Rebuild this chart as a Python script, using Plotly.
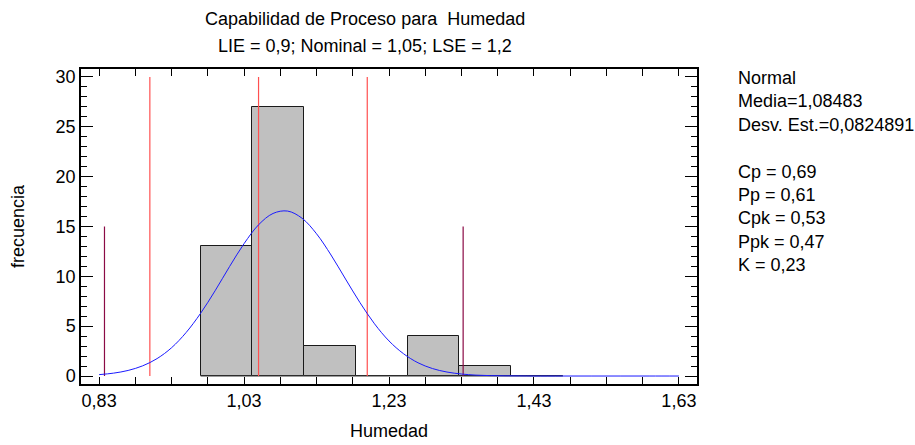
import plotly.graph_objects as go

# ---------------- data ----------------
bin_edges = [0.970, 1.0414, 1.1129, 1.1843, 1.2557, 1.3271, 1.3986, 1.470]
counts = [13, 27, 3, 0, 4, 1, 0]

curve_x = [0.83, 0.85, 0.87, 0.89, 0.91, 0.93, 0.95, 0.97, 0.99, 1.01, 1.03, 1.05,
           1.07, 1.09, 1.11, 1.13, 1.15, 1.17, 1.19, 1.21, 1.23, 1.25, 1.27, 1.29,
           1.31, 1.33, 1.35, 1.37, 1.39, 1.41, 1.43, 1.47, 1.51, 1.55, 1.59, 1.63]
curve_y = [0.14, 0.29, 0.56, 1.02, 1.75, 2.84, 4.36, 6.29, 8.55, 10.98, 13.28, 15.17,
           16.31, 16.55, 15.83, 14.27, 12.14, 9.73, 7.36, 5.24, 3.52, 2.24, 1.33, 0.75,
           0.40, 0.20, 0.09, 0.04, 0.02, 0.01, 0.0, 0.0, 0.0, 0.0, 0.0, 0.0]

spec_names = ["LIE", "Nominal", "LSE"]
spec_values = [0.9, 1.05, 1.2]
spec_height = 30
sigma_lines = [0.8374, 1.3323]
sigma_height = 15

x_tick_vals = [0.83, 1.03, 1.23, 1.43, 1.63]
x_tick_labels = ["0,83", "1,03", "1,23", "1,43", "1,63"]
x_minor_step = 0.05

title_lines = ["Capabilidad de Proceso para  Humedad",
               "LIE = 0,9; Nominal = 1,05; LSE = 1,2"]
stats_lines = ["Normal", "Media=1,08483", "Desv. Est.=0,0824891", "",
               "Cp = 0,69", "Pp = 0,61", "Cpk = 0,53", "Ppk = 0,47", "K = 0,23"]

# ---------------- figure ----------------
W, H = 915, 445
L, R, T, B = 81, 218, 69, 61
FONT = "Liberation Sans, Arial, sans-serif"

def px_x(p):
    return (p - L) / (W - L - R)

def px_y(p):
    return (H - B - p) / (H - T - B)

fig = go.Figure()

centers = [(bin_edges[i] + bin_edges[i + 1]) / 2 for i in range(len(counts))]
widths = [bin_edges[i + 1] - bin_edges[i] for i in range(len(counts))]

# baseline of histogram (visible for empty bins)
fig.add_trace(go.Scatter(x=[bin_edges[0], bin_edges[-1]], y=[0, 0], mode="lines",
                         line=dict(color="#404040", width=1), hoverinfo="skip"))

fig.add_trace(go.Bar(x=centers, y=counts, width=widths,
                     marker=dict(color="#c0c0c0", line=dict(color="#1a1a1a", width=1)),
                     hoverinfo="x+y"))

for v in spec_values:
    fig.add_trace(go.Scatter(x=[v, v], y=[0, spec_height], mode="lines",
                             line=dict(color="#ff5050", width=1.2), hoverinfo="skip"))

for v in sigma_lines:
    fig.add_trace(go.Scatter(x=[v, v], y=[0, sigma_height], mode="lines",
                             line=dict(color="#8b0a45", width=1.2), hoverinfo="skip"))

fig.add_trace(go.Scatter(x=curve_x, y=curve_y, mode="lines", line_shape="spline",
                         line=dict(color="#1a1aff", width=1), hoverinfo="skip"))

# ticks: all x ticks every 0.05, labelled every 0.2
n_minor = int(round((x_tick_vals[-1] - x_tick_vals[0]) / x_minor_step))
all_x = [round(x_tick_vals[0] + i * x_minor_step, 4) for i in range(n_minor + 1)]
lab = dict(zip([round(v, 4) for v in x_tick_vals], x_tick_labels))
all_x_text = [lab.get(v, "") for v in all_x]

fig.update_layout(
    width=W, height=H,
    margin=dict(l=L, r=R, t=T, b=B),
    paper_bgcolor="white", plot_bgcolor="white",
    showlegend=False,
    bargap=0,
    font=dict(family=FONT, size=18, color="black"),
    xaxis=dict(range=[0.805, 1.655], tickvals=all_x, ticktext=all_x_text,
               ticks="inside", ticklen=7, tickwidth=1, tickcolor="black",
               showline=True, linecolor="black", linewidth=1.5, mirror="allticks",
               showgrid=False, zeroline=False, automargin=False,
               title=dict(text="Humedad", standoff=14, font=dict(size=18)),
               tickfont=dict(size=18)),
    yaxis=dict(range=[-0.8, 30.8], tickvals=[0, 5, 10, 15, 20, 25, 30],
               ticks="inside", ticklen=12, tickwidth=1, tickcolor="black",
               minor=dict(dtick=1, ticks="inside", ticklen=6, tickcolor="black", showgrid=False),
               showline=True, linecolor="black", linewidth=1.5, mirror="allticks",
               showgrid=False, zeroline=False, automargin=False,
               title=dict(text="frecuencia", standoff=26, font=dict(size=18)),
               tickfont=dict(size=18)),
)

# title lines
for i, t in enumerate(title_lines):
    fig.add_annotation(text=t, xref="paper", yref="paper", x=px_x(365), y=px_y([19, 46][i]),
                       xanchor="center", yanchor="middle", showarrow=False,
                       font=dict(family=FONT, size=18))

# stats block
fig.add_annotation(text="<br>".join(s if s else " " for s in stats_lines),
                   xref="paper", yref="paper", x=px_x(736), y=px_y(66),
                   xanchor="left", yanchor="top", align="left", showarrow=False,
                   font=dict(family=FONT, size=18))

fig.write_html("out.html")
